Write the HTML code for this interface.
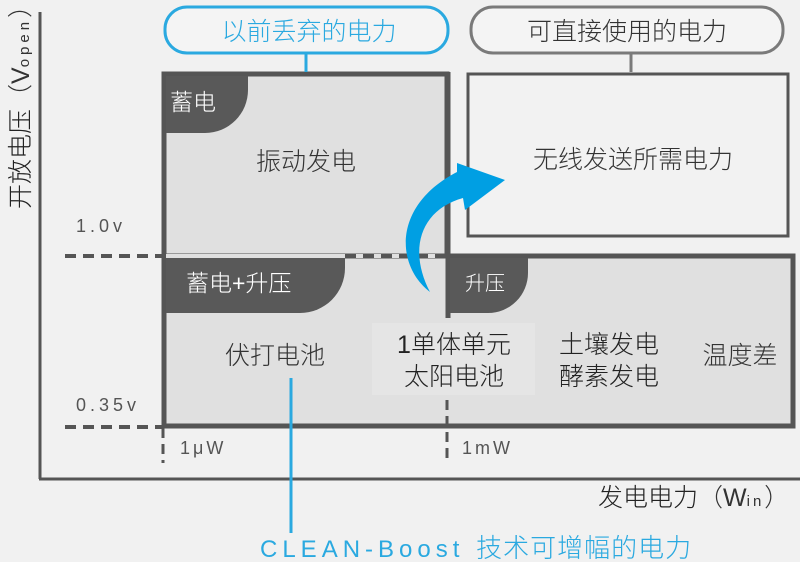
<!DOCTYPE html>
<html><head><meta charset="utf-8"><style>
body{margin:0;width:800px;height:562px;background:#f1f1f1;overflow:hidden}
svg{display:block}
text{font-family:"Liberation Sans","Noto Sans CJK SC",sans-serif;font-weight:300}
</style></head><body>
<svg width="800" height="562" viewBox="0 0 800 562">
<rect width="800" height="562" fill="#f1f1f1"/>
<line x1="40" y1="12" x2="40" y2="479" stroke="#555" stroke-width="3"/>
<line x1="39" y1="479" x2="800" y2="479" stroke="#555" stroke-width="3"/>
<rect x="164" y="74" width="283" height="184" fill="#e0e0e0" stroke="#555" stroke-width="5"/>
<rect x="164" y="256" width="629" height="170" fill="#e0e0e0" stroke="#555" stroke-width="5"/>
<rect x="372" y="323" width="163" height="72" fill="#e5e5e5"/>
<rect x="450" y="74" width="345" height="179" fill="#f1f1f1"/>
<line x1="448" y1="72" x2="448" y2="318" stroke="#555" stroke-width="5"/>
<line x1="448" y1="256" x2="795" y2="256" stroke="#555" stroke-width="5"/>
<rect x="468" y="74" width="320" height="162" fill="#f2f2f2" stroke="#555" stroke-width="3"/>
<line x1="164" y1="72" x2="164" y2="428" stroke="#555" stroke-width="5"/>
<rect x="166" y="254" width="280" height="4" fill="#e0e0e0"/>
<line x1="345" y1="256" x2="446" y2="256" stroke="#555" stroke-width="4" stroke-dasharray="11,7"/>
<line x1="65" y1="256" x2="162" y2="256" stroke="#555" stroke-width="4" stroke-dasharray="11,7"/>
<line x1="65" y1="427" x2="162" y2="427" stroke="#555" stroke-width="4" stroke-dasharray="11,7"/>
<line x1="163" y1="428" x2="163" y2="463" stroke="#555" stroke-width="3" stroke-dasharray="10,6"/>
<line x1="447" y1="400" x2="447" y2="463" stroke="#555" stroke-width="3" stroke-dasharray="10,6"/>
<path d="M166 76 H248 V90 A43 43 0 0 1 205 133 H166 Z" fill="#595959"/>
<path d="M166 258 H345 V268 A45 45 0 0 1 300 313 H166 Z" fill="#595959"/>
<path d="M450 258 H528 V273 A40 40 0 0 1 488 313 H450 Z" fill="#595959"/>
<text x="170" y="110" font-size="23" fill="#fff">蓄电</text>
<text x="186" y="291" font-size="23" fill="#fff">蓄电+升压</text>
<text x="465" y="290" font-size="20" fill="#fff">升压</text>
<rect x="165" y="7" width="283" height="46" rx="22" fill="#f4f4f4" stroke="#2aa9e0" stroke-width="3"/>
<line x1="306" y1="53" x2="306" y2="72" stroke="#2aa9e0" stroke-width="3"/>
<text x="309" y="40" font-size="25" fill="#2aa9e0" text-anchor="middle">以前丢弃的电力</text>
<rect x="471" y="7" width="312" height="46" rx="22" fill="#f4f4f4" stroke="#7a7a7a" stroke-width="3"/>
<line x1="631" y1="53" x2="631" y2="72" stroke="#7a7a7a" stroke-width="3"/>
<text x="627" y="40" font-size="25" fill="#333" text-anchor="middle">可直接使用的电力</text>
<text x="306" y="170" font-size="25" fill="#333" text-anchor="middle">振动发电</text>
<text x="633" y="168" font-size="25" fill="#333" text-anchor="middle">无线发送所需电力</text>
<text x="275" y="364" font-size="25" fill="#333" text-anchor="middle">伏打电池</text>
<text x="454" y="353" font-size="25" fill="#222" text-anchor="middle">1单体单元</text>
<text x="454" y="385" font-size="25" fill="#222" text-anchor="middle">太阳电池</text>
<text x="609" y="353" font-size="25" fill="#222" text-anchor="middle">土壤发电</text>
<text x="609" y="385" font-size="25" fill="#222" text-anchor="middle">酵素发电</text>
<text x="740" y="364" font-size="25" fill="#333" text-anchor="middle">温度差</text>
<path d="M430 292 C395 265 393 205 457 172 L457 163 L505 180 L465 210 L463 198 C420 210 408 250 430 292 Z" fill="#009fe3"/>
<text x="76" y="232" font-size="18" fill="#555" letter-spacing="4">1.0v</text>
<text x="76" y="411" font-size="18" fill="#555" letter-spacing="4">0.35v</text>
<text x="180" y="454" font-size="18" fill="#555" letter-spacing="3">1μW</text>
<text x="462" y="454" font-size="18" fill="#555" letter-spacing="3">1mW</text>
<text x="598" y="506" font-size="25" fill="#222">发电电力</text>
<text x="698" y="506" font-size="25" fill="#333">（W<tspan font-size="15" letter-spacing="3">in</tspan>）</text>
<g transform="translate(29,209) rotate(-90)">
<text x="0" y="0" font-size="25" fill="#222">开放电压<tspan fill="#333">（V<tspan font-size="15" letter-spacing="4">open</tspan>）</tspan></text>
</g>
<line x1="291" y1="378" x2="291" y2="533" stroke="#2aa9e0" stroke-width="3"/>
<text x="260" y="557" font-size="24" fill="#2aa9e0" letter-spacing="5">CLEAN-Boost <tspan font-size="26" letter-spacing="1">技术可增幅的电力</tspan></text>
</svg>
</body></html>
